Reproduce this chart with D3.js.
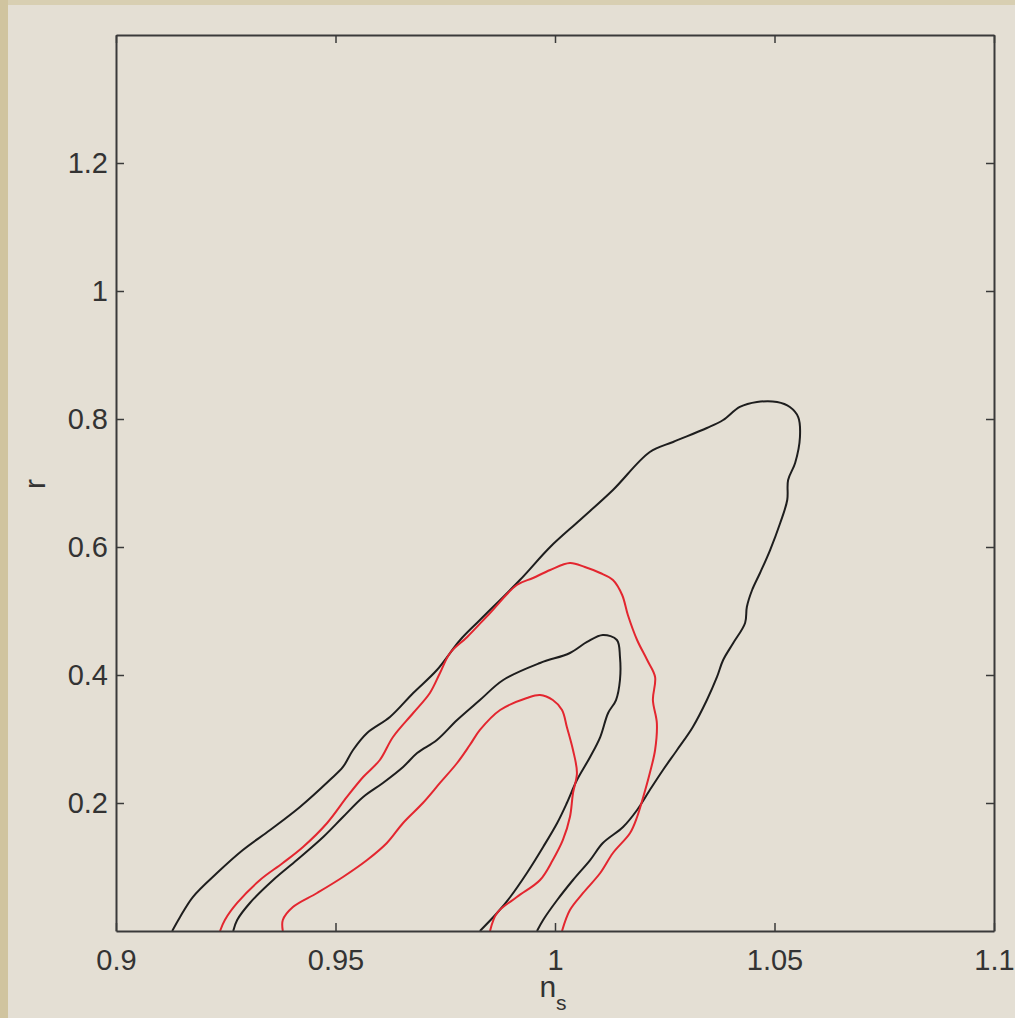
<!DOCTYPE html>
<html>
<head>
<meta charset="utf-8">
<script src="https://cdn.jsdelivr.net/npm/d3@7"></script>
<style>
  html, body { margin: 0; padding: 0; background: #e4dfd4; }
  svg { display: block; }
</style>
</head>
<body>
<script>
// ---- Data (n_s, r) ----
const xTicks = [0.9, 0.95, 1, 1.05, 1.1];
const xTickLabels = ["0.9", "0.95", "1", "1.05", "1.1"];
const yTicks = [0.2, 0.4, 0.6, 0.8, 1, 1.2];
const yTickLabels = ["0.2", "0.4", "0.6", "0.8", "1", "1.2"];

const blackOuter = [
  [0.9128,0],[0.9146,0.0219],[0.9175,0.0531],[0.9230,0.0906],[0.9289,0.1266],[0.9351,0.1578],
  [0.9419,0.1938],[0.9487,0.2359],[0.9517,0.2563],[0.9540,0.2828],[0.9572,0.3094],[0.9624,0.3344],
  [0.9677,0.3719],[0.9731,0.4078],[0.9784,0.4547],[0.9829,0.4859],[0.9920,0.5484],[0.9989,0.6],
  [1.0057,0.6422],[1.0132,0.6891],[1.0216,0.7484],[1.0269,0.7641],[1.0346,0.7859],[1.0383,0.7984],
  [1.0421,0.8188],[1.0460,0.8266],[1.0506,0.8266],[1.0535,0.8188],[1.0554,0.8031],[1.0558,0.7719],
  [1.0547,0.7313],[1.0531,0.7047],[1.0529,0.6734],[1.0513,0.6375],[1.0490,0.5953],[1.0467,0.5594],
  [1.0449,0.5328],[1.0437,0.5063],[1.0433,0.4813],[1.0406,0.45],[1.0383,0.4234],[1.0369,0.3969],
  [1.0346,0.3609],[1.0314,0.3188],[1.0278,0.2828],[1.0246,0.2516],[1.0216,0.2203],[1.0187,0.1891],
  [1.0155,0.1625],[1.0109,0.1375],[1.0080,0.1109],[1.0041,0.0797],[1.0005,0.0484],[0.9973,0.0172],
  [0.9959,0]
];
const blackInner = [
  [0.9267,0],[0.9276,0.0172],[0.9305,0.0438],[0.9358,0.0797],[0.9412,0.1109],[0.9472,0.1469],
  [0.9517,0.1781],[0.9563,0.2094],[0.9608,0.2313],[0.9654,0.2563],[0.9686,0.2781],[0.9731,0.2984],
  [0.9777,0.3297],[0.9829,0.3609],[0.9882,0.3922],[0.9966,0.4188],[1.0034,0.4344],[1.0073,0.4516],
  [1.0109,0.4625],[1.0141,0.4547],[1.0148,0.4281],[1.0148,0.3922],[1.0139,0.3609],[1.0121,0.3406],
  [1.0103,0.3031],[1.0080,0.2719],[1.0050,0.2359],[1.0027,0.2],[1.0005,0.1688],[0.9973,0.1313],
  [0.9936,0.0906],[0.9898,0.0531],[0.9868,0.0281],[0.9829,0]
];
const redOuter = [
  [0.9237,0],[0.9248,0.0172],[0.9276,0.0438],[0.9328,0.0797],[0.9380,0.1063],[0.9426,0.1313],
  [0.9481,0.1688],[0.9526,0.2094],[0.9563,0.2406],[0.9601,0.2672],[0.9631,0.3031],[0.9677,0.3406],
  [0.9715,0.3719],[0.9738,0.4031],[0.9761,0.4344],[0.9800,0.4594],[0.9852,0.4969],[0.9913,0.5406],
  [0.9950,0.5516],[0.9989,0.5641],[1.0034,0.575],[1.0068,0.5688],[1.0103,0.5594],[1.0132,0.5484],
  [1.0153,0.525],[1.0166,0.4938],[1.0187,0.4547],[1.0210,0.4234],[1.0228,0.3969],[1.0223,0.3609],
  [1.0232,0.325],[1.0228,0.2828],[1.0216,0.2469],[1.0201,0.2094],[1.0187,0.1781],[1.0171,0.1531],
  [1.0132,0.1219],[1.0103,0.0906],[1.0064,0.0594],[1.0034,0.0328],[1.0016,0]
];
const redInner = [
  [0.9380,0],[0.9380,0.0172],[0.9403,0.0375],[0.9458,0.0594],[0.9517,0.0844],[0.9572,0.1109],
  [0.9617,0.1375],[0.9654,0.1688],[0.9699,0.2],[0.9738,0.2313],[0.9777,0.2625],[0.9806,0.2906],
  [0.9829,0.3141],[0.9875,0.3453],[0.9936,0.3641],[0.9966,0.3688],[0.9995,0.3609],[1.0016,0.3453],
  [1.0027,0.3188],[1.0041,0.2828],[1.0050,0.2469],[1.0041,0.2156],[1.0034,0.1781],[1.0018,0.1422],
  [0.9995,0.1109],[0.9966,0.0797],[0.9913,0.0531],[0.9868,0.0281],[0.9852,0]
];
const contours = [
  { name: "blackOuter", pts: blackOuter, color: "#1e1e1e" },
  { name: "blackInner", pts: blackInner, color: "#1e1e1e" },
  { name: "redOuter", pts: redOuter, color: "#e3262f" },
  { name: "redInner", pts: redInner, color: "#e3262f" }
];

// ---- Layout ----
const W = 1015, H = 1018;
const mLeft = 116, mRight = 994, mTop = 35, mBottom = 931;

const svg = d3.select("body").append("svg").attr("width", W).attr("height", H);

// page background + textured frame edges
svg.append("rect").attr("width", W).attr("height", H).attr("fill", "#e4dfd4");
svg.append("rect").attr("x", 0).attr("y", 0).attr("width", W).attr("height", 5).attr("fill", "#d8cfb2");
svg.append("rect").attr("x", 0).attr("y", 0).attr("width", 8).attr("height", H).attr("fill", "#d0c49f");

const x = d3.scaleLinear().domain([0.9, 1.1]).range([mLeft, mRight]);
const y = d3.scaleLinear().domain([0, 1.4]).range([mBottom, mTop]);

const font = "'Liberation Sans', Arial, Helvetica, sans-serif";
const axisColor = "#3a3a3a";
const tickLen = 8;

// contours
const clipId = "plotclip";
svg.append("clipPath").attr("id", clipId).append("rect")
  .attr("x", mLeft).attr("y", mTop).attr("width", mRight - mLeft).attr("height", mBottom - mTop);

const line = d3.line().x(d => x(d[0])).y(d => y(d[1])).curve(d3.curveCatmullRom.alpha(0.5));
svg.append("g").attr("clip-path", `url(#${clipId})`)
  .selectAll("path").data(contours).join("path")
  .attr("d", d => line(d.pts))
  .attr("fill", "none")
  .attr("stroke", d => d.color)
  .attr("stroke-width", 2)
  .attr("stroke-linejoin", "round");

// axes (box with inward ticks on all sides)
const gB = svg.append("g").attr("transform", `translate(0,${mBottom})`)
  .call(d3.axisBottom(x).tickValues(xTicks).tickFormat((d, i) => xTickLabels[i])
    .tickSizeInner(-tickLen).tickSizeOuter(0).tickPadding(18));
const gT = svg.append("g").attr("transform", `translate(0,${mTop})`)
  .call(d3.axisTop(x).tickValues(xTicks).tickFormat("").tickSizeInner(-tickLen).tickSizeOuter(0));
const gL = svg.append("g").attr("transform", `translate(${mLeft},0)`)
  .call(d3.axisLeft(y).tickValues(yTicks).tickFormat((d, i) => yTickLabels[i])
    .tickSizeInner(-tickLen).tickSizeOuter(0).tickPadding(8));
const gR = svg.append("g").attr("transform", `translate(${mRight},0)`)
  .call(d3.axisRight(y).tickValues(yTicks).tickFormat("").tickSizeInner(-tickLen).tickSizeOuter(0));

[gB, gT, gL, gR].forEach(g => {
  g.select(".domain").attr("stroke", axisColor).attr("stroke-width", 2);
  g.selectAll(".tick line").attr("stroke", axisColor).attr("stroke-width", 1.5);
  g.selectAll("text").attr("fill", "#333").style("font-family", font).style("font-size", "29px");
});

// axis labels
const xl = svg.append("text")
  .attr("x", x(1) - 2).attr("y", 997)
  .attr("text-anchor", "middle")
  .attr("fill", "#333")
  .style("font-family", font).style("font-size", "30px");
xl.append("tspan").text("n");
xl.append("tspan").attr("dy", 13).style("font-size", "21px").text("s");

svg.append("text")
  .attr("transform", "translate(45,484) rotate(-90)")
  .attr("text-anchor", "middle")
  .attr("fill", "#333")
  .style("font-family", font).style("font-size", "30px")
  .text("r");
</script>
</body>
</html>
